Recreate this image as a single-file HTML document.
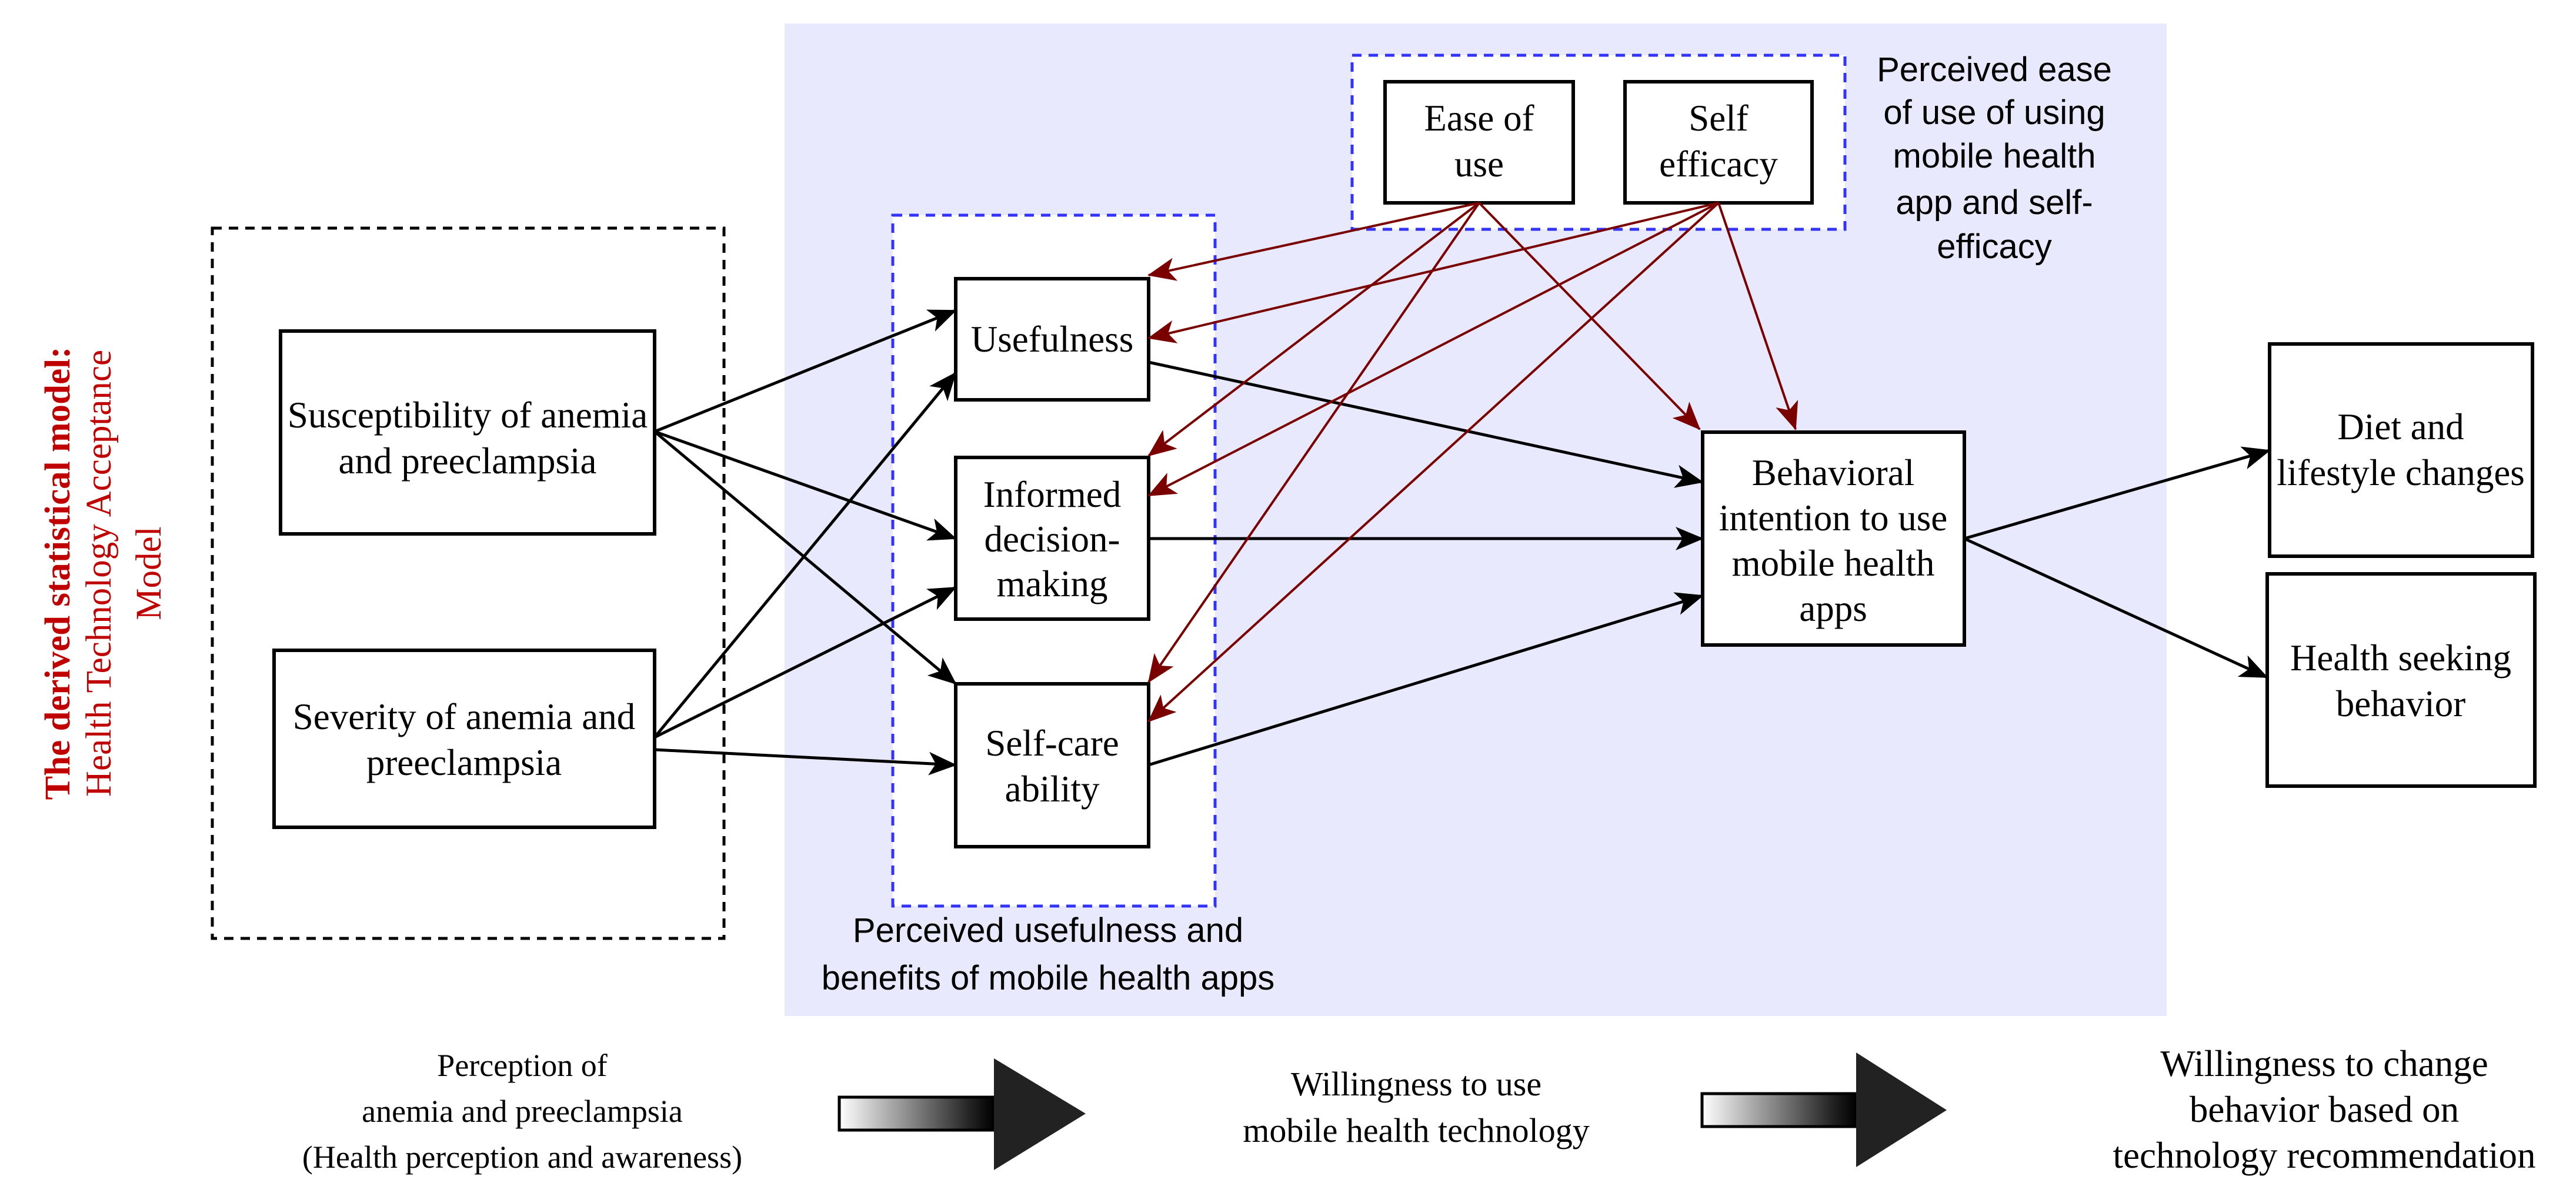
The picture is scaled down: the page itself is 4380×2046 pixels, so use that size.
<!DOCTYPE html>
<html><head><meta charset="utf-8"><style>
html,body{margin:0;padding:0;background:#fff;}
svg{display:block;}
.s{font-family:"Liberation Serif",serif;font-size:63px;fill:#000;text-anchor:middle;}
.b{font-family:"Liberation Serif",serif;font-size:58px;fill:#000;text-anchor:middle;}
.a{font-family:"Liberation Sans",sans-serif;font-size:58px;fill:#000;text-anchor:middle;}
</style></head><body>
<svg width="4380" height="2046" viewBox="0 0 4380 2046" xmlns="http://www.w3.org/2000/svg">
<defs>
<marker id="mb" markerUnits="userSpaceOnUse" markerWidth="50" markerHeight="40" refX="46" refY="20" orient="auto">
<path d="M0,0 L48,20 L0,40 L12,20 z" fill="#000"/></marker>
<marker id="mr" markerUnits="userSpaceOnUse" markerWidth="50" markerHeight="40" refX="46" refY="20" orient="auto">
<path d="M0,0 L48,20 L0,40 L12,20 z" fill="#7a0000"/></marker>
<linearGradient id="g" x1="0" x2="1" y1="0" y2="0">
<stop offset="0" stop-color="#fff"/><stop offset="0.85" stop-color="#222"/><stop offset="1" stop-color="#000"/></linearGradient>
</defs>
<rect x="1334" y="40" width="2350" height="1688" fill="#e8e9fd"/>
<rect x="361" y="388" width="870" height="1208" fill="none" stroke="#000" stroke-width="5" stroke-dasharray="16,12"/>
<rect x="1518" y="366" width="548" height="1175" fill="#fff" stroke="#3333ff" stroke-width="5" stroke-dasharray="16,12"/>
<rect x="2299" y="94" width="838" height="296" fill="#fff" stroke="#3333ff" stroke-width="5" stroke-dasharray="16,12"/>

<g fill="#fff" stroke="#000" stroke-width="6">
<rect x="477" y="563" width="636" height="345"/>
<rect x="466" y="1106" width="647" height="301"/>
<rect x="1625" y="474" width="328" height="206"/>
<rect x="1625" y="778" width="328" height="275"/>
<rect x="1625" y="1163" width="328" height="277"/>
<rect x="2355" y="139" width="320" height="206"/>
<rect x="2763" y="139" width="318" height="206"/>
<rect x="2895" y="735" width="445" height="362"/>
<rect x="3859" y="585" width="447" height="361"/>
<rect x="3855" y="976" width="455" height="361"/>
</g>

<g stroke="#000" stroke-width="5" fill="none" marker-end="url(#mb)">
<line x1="1113" y1="734" x2="1625" y2="528"/>
<line x1="1113" y1="734" x2="1625" y2="916"/>
<line x1="1113" y1="734" x2="1625" y2="1163"/>
<line x1="1113" y1="1254" x2="1625" y2="634"/>
<line x1="1113" y1="1254" x2="1625" y2="999"/>
<line x1="1113" y1="1275" x2="1625" y2="1301"/>
<line x1="1953" y1="616" x2="2895" y2="820"/>
<line x1="1953" y1="916" x2="2895" y2="916"/>
<line x1="1953" y1="1301" x2="2895" y2="1013"/>
<line x1="3340" y1="916" x2="3859" y2="766"/>
<line x1="3340" y1="916" x2="3855" y2="1152"/>
</g>
<g stroke="#7a0000" stroke-width="4" fill="none" marker-end="url(#mr)">
<line x1="2515" y1="345" x2="1953" y2="468"/>
<line x1="2922" y1="345" x2="1953" y2="575"/>
<line x1="2515" y1="345" x2="1953" y2="775"/>
<line x1="2922" y1="345" x2="1953" y2="843"/>
<line x1="2515" y1="345" x2="1953" y2="1160"/>
<line x1="2922" y1="345" x2="1953" y2="1227"/>
<line x1="2515" y1="345" x2="2890" y2="730"/>
<line x1="2922" y1="345" x2="3053" y2="730"/>
</g>

<text class="s" x="795" y="727">Susceptibility of anemia</text>
<text class="s" x="795" y="805">and preeclampsia</text>
<text class="s" x="789" y="1240">Severity of anemia and</text>
<text class="s" x="789" y="1318">preeclampsia</text>
<text class="s" x="1789" y="598">Usefulness</text>
<text class="s" x="1789" y="862">Informed</text>
<text class="s" x="1789" y="938">decision-</text>
<text class="s" x="1789" y="1014">making</text>
<text class="s" x="1789" y="1285">Self-care</text>
<text class="s" x="1789" y="1363">ability</text>
<text class="s" x="2515" y="222">Ease of</text>
<text class="s" x="2515" y="300">use</text>
<text class="s" x="2922" y="222">Self</text>
<text class="s" x="2922" y="300">efficacy</text>
<text class="s" x="3117" y="825">Behavioral</text>
<text class="s" x="3117" y="902">intention to use</text>
<text class="s" x="3117" y="979">mobile health</text>
<text class="s" x="3117" y="1056">apps</text>
<text class="s" x="4082" y="747">Diet and</text>
<text class="s" x="4082" y="825">lifestyle changes</text>
<text class="s" x="4082" y="1140">Health seeking</text>
<text class="s" x="4082" y="1218">behavior</text>

<text class="a" x="3391" y="138">Perceived ease</text>
<text class="a" x="3391" y="211">of use of using</text>
<text class="a" x="3391" y="285">mobile health</text>
<text class="a" x="3391" y="364">app and self-</text>
<text class="a" x="3391" y="439">efficacy</text>
<text class="a" x="1782" y="1602">Perceived usefulness and</text>
<text class="a" x="1782" y="1683">benefits of mobile health apps</text>

<g transform="translate(98,975) rotate(-90)">
<text x="0" y="20" text-anchor="middle" font-family="Liberation Serif,serif" font-size="61" font-weight="bold" fill="#c00000">The derived statistical model:</text>
</g>
<g transform="translate(168,975) rotate(-90)">
<text x="0" y="20" text-anchor="middle" font-family="Liberation Serif,serif" font-size="61" fill="#c00000">Health Technology Acceptance</text>
</g>
<g transform="translate(253,975) rotate(-90)">
<text x="0" y="20" text-anchor="middle" font-family="Liberation Serif,serif" font-size="61" fill="#c00000">Model</text>
</g>

<text class="b" x="888" y="1830" style="font-size:54px">Perception of</text>
<text class="b" x="888" y="1908" style="font-size:54px">anemia and preeclampsia</text>
<text class="b" x="888" y="1986" style="font-size:54px">(Health perception and awareness)</text>
<text class="b" x="2408" y="1863">Willingness to use</text>
<text class="b" x="2408" y="1942">mobile health technology</text>
<text class="b" x="3952" y="1830" style="font-size:63px">Willingness to change</text>
<text class="b" x="3952" y="1908" style="font-size:63px">behavior based on</text>
<text class="b" x="3952" y="1986" style="font-size:63px">technology recommendation</text>

<g>
<rect x="1427" y="1866" width="263" height="56" fill="url(#g)" stroke="#000" stroke-width="5"/>
<polygon points="1690,1800 1846,1894 1690,1990" fill="#222"/>
<rect x="2894" y="1860" width="262" height="56" fill="url(#g)" stroke="#000" stroke-width="5"/>
<polygon points="3156,1790 3310,1888 3156,1985" fill="#222"/>
</g>
</svg>
</body></html>
